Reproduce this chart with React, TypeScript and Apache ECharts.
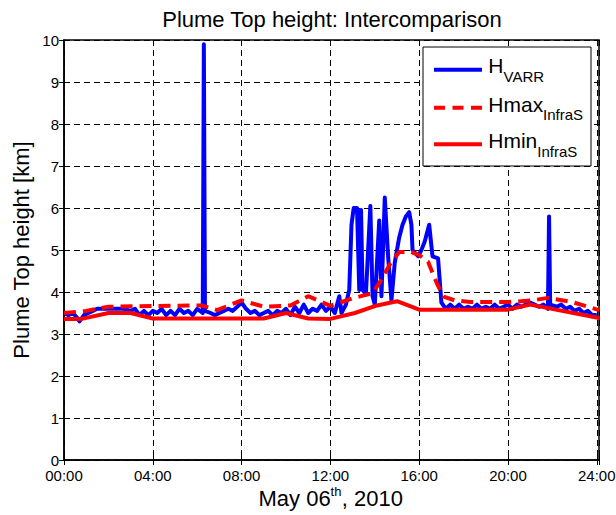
import React, { useEffect, useRef } from "react";
import * as echarts from "echarts";

// ---- data (hours of day, km) ----
const varrTime = [
  0, 0.2, 0.4, 0.6, 0.7, 0.9, 1.1, 1.3, 1.5, 1.8, 2.1, 2.4, 2.7, 3.0, 3.2, 3.4, 3.6, 3.8, 4.0, 4.2,
  4.4, 4.6, 4.8, 5.0, 5.2, 5.4, 5.6, 5.8, 6.0, 6.25, 6.3, 6.35, 6.6, 6.8, 7.0, 7.2, 7.4, 7.6, 7.8, 8.0,
  8.2, 8.4, 8.6, 8.8, 9.0, 9.2, 9.4, 9.6, 9.8, 10.0, 10.2, 10.4, 10.6, 10.8, 11.0, 11.2, 11.4, 11.6, 11.8, 12.0,
  12.2, 12.4, 12.5, 12.7, 12.85, 12.95, 13.05, 13.2, 13.3, 13.38, 13.45, 13.6, 13.8, 13.9, 14.0, 14.2, 14.3, 14.45, 14.6, 14.75,
  14.9, 15.1, 15.25, 15.4, 15.55, 15.65, 15.7, 15.95, 16.1, 16.25, 16.45, 16.6, 16.85, 17.0, 17.2, 17.4, 17.6, 17.8, 18.0, 18.2,
  18.4, 18.6, 18.8, 19.0, 19.2, 19.4, 19.6, 19.8, 20.0, 20.2, 20.4, 20.6, 20.8, 21.0, 21.2, 21.4, 21.6, 21.8, 21.85, 21.9,
  22.2, 22.4, 22.6, 22.8, 23.0, 23.2, 23.4, 23.6, 23.8, 24.0,
];
const varrHeight = [
  3.5, 3.45, 3.5, 3.38, 3.3, 3.45, 3.5, 3.55, 3.6, 3.6, 3.6, 3.6, 3.6, 3.55, 3.6, 3.45, 3.55, 3.45, 3.55, 3.5,
  3.6, 3.45, 3.55, 3.45, 3.6, 3.5, 3.55, 3.45, 3.6, 3.5, 9.9, 3.55, 3.5, 3.45, 3.5, 3.55, 3.6, 3.55, 3.65, 3.75,
  3.6, 3.5, 3.55, 3.45, 3.5, 3.55, 3.45, 3.55, 3.5, 3.6, 3.45, 3.65, 3.5, 3.7, 3.5, 3.6, 3.55, 3.7, 3.55, 3.65,
  3.5, 3.9, 3.5, 3.7, 4.05, 5.6, 6.0, 6.0, 4.05, 5.95, 4.05, 3.95, 6.05, 3.9, 3.7, 5.7, 3.9, 6.25, 4.85, 3.8,
  4.7, 5.3, 5.6, 5.8, 5.9, 5.6, 5.0, 4.85, 5.0, 5.2, 5.6, 4.85, 4.8, 3.75, 3.6, 3.7, 3.6, 3.7, 3.6, 3.65,
  3.6, 3.7, 3.6, 3.65, 3.6, 3.7, 3.6, 3.65, 3.7, 3.6, 3.7, 3.65, 3.7, 3.75, 3.7, 3.65, 3.7, 3.6, 5.8, 3.7,
  3.65, 3.7, 3.6, 3.65, 3.55, 3.6, 3.5, 3.55, 3.45, 3.45,
];
const hmaxTime = [0, 1.0, 2.0, 6.2, 6.9, 8.0, 9.0, 10.2, 11.0, 12.0, 13.0, 13.9, 14.3, 14.7, 15.1, 15.6, 16.0, 16.4, 16.8, 17.1, 17.6, 18.3, 20.0, 21.1, 21.8, 22.9, 24.1];
const hmaxHeight = [3.5, 3.55, 3.65, 3.68, 3.57, 3.8, 3.65, 3.68, 3.9, 3.67, 3.85, 3.97, 4.3, 4.68, 4.95, 4.96, 4.88, 4.72, 4.2, 3.89, 3.8, 3.76, 3.76, 3.8, 3.86, 3.76, 3.57];
const hminTime = [0, 0.8, 2.0, 3.0, 4.0, 9.0, 10.0, 11.0, 12.0, 13.1, 14.1, 15.0, 16.0, 20.0, 21.0, 24.1];
const hminHeight = [3.36, 3.36, 3.5, 3.5, 3.37, 3.37, 3.5, 3.37, 3.36, 3.5, 3.68, 3.78, 3.58, 3.58, 3.7, 3.38];

const seriesNames = ["H_VARR", "Hmax_InfraS", "Hmin_InfraS"];
const xMin = 0;
const xMax = 24.1;
const xInterval = 4;
const yMin = 0;
const yMax = 10;
const yInterval = 1;

const titleText = "Plume Top height: Intercomparison";
const yLabelText = "Plume Top height [km]";

const FONT = "'Liberation Sans', Arial, Helvetica, sans-serif";

const zip = (t: number[], v: number[]) => t.map((x, i) => [x, v[i]]);
const pad2 = (n: number) => (n < 10 ? "0" + n : "" + n);

export default function App() {
  const ref = useRef<HTMLDivElement>(null);
  useEffect(() => {
    if (!ref.current) return;
    const chart = echarts.init(ref.current, null, { renderer: "svg" });
    const gridLeft = 64;
    const gridTop = 40;
    const gridW = 535;
    const gridH = 420;

    const tickStyle = { show: true, inside: true, length: 5, lineStyle: { color: "#000", width: 1 } };
    const labelStyle = { color: "#000", fontSize: 15, fontFamily: FONT };

    const txt = (text: string, x: number, y: number, size: number, extra: any = {}) => ({
      type: "text",
      x,
      y,
      z: 110,
      ...extra,
      style: {
        text,
        fill: "#000",
        fontSize: size,
        fontFamily: FONT,
        align: "left",
        verticalAlign: "middle",
        ...(extra.style || {}),
      },
    });

    const legX1 = 434;
    const legX2 = 482;
    const legRowsY = [69.7, 107.7, 144.3];

    chart.setOption({
      animation: false,
      backgroundColor: "#fff",
      grid: {
        left: gridLeft,
        top: gridTop,
        width: gridW,
        height: gridH,
        show: true,
        borderColor: "#000",
        borderWidth: 1.5,
        backgroundColor: "#fff",
        containLabel: false,
        outerBoundsMode: "none",
      },
      xAxis: [
        {
          type: "value",
          min: xMin,
          max: xMax,
          interval: xInterval,
          axisLine: { show: true, lineStyle: { color: "#000", width: 1.5 } },
          axisTick: tickStyle,
          axisLabel: {
            ...labelStyle,
            margin: 8,
            showMaxLabel: true,
            formatter: (v: number) => (Math.abs(v - Math.round(v)) < 1e-6 && Math.round(v) % 4 === 0 ? pad2(Math.round(v)) + ":00" : ""),
          },
          splitLine: { show: true, lineStyle: { color: "#000", width: 1, type: [6, 4] } },
        },
        {
          type: "value",
          position: "top",
          min: xMin,
          max: xMax,
          interval: xInterval,
          axisLine: { show: false },
          axisTick: tickStyle,
          axisLabel: { show: false },
          splitLine: { show: false },
        },
      ],
      yAxis: [
        {
          type: "value",
          min: yMin,
          max: yMax,
          interval: yInterval,
          axisLine: { show: true, lineStyle: { color: "#000", width: 1.5 } },
          axisTick: tickStyle,
          axisLabel: { ...labelStyle, margin: 5 },
          splitLine: { show: true, lineStyle: { color: "#000", width: 1, type: [6, 4] } },
        },
        {
          type: "value",
          position: "right",
          min: yMin,
          max: yMax,
          interval: yInterval,
          axisLine: { show: false },
          axisTick: tickStyle,
          axisLabel: { show: false },
          splitLine: { show: false },
        },
      ],
      series: [
        {
          name: seriesNames[0],
          type: "line",
          xAxisIndex: 0,
          yAxisIndex: 0,
          data: zip(varrTime, varrHeight),
          symbol: "none",
          showSymbol: false,
          lineStyle: { color: "#0000ff", width: 4, join: "round" },
          z: 2,
        },
        {
          name: seriesNames[1],
          type: "line",
          xAxisIndex: 0,
          yAxisIndex: 0,
          data: zip(hmaxTime, hmaxHeight),
          symbol: "none",
          showSymbol: false,
          lineStyle: { color: "#ff0000", width: 4, type: [12, 7] },
          z: 3,
        },
        {
          name: seriesNames[2],
          type: "line",
          xAxisIndex: 0,
          yAxisIndex: 0,
          data: zip(hminTime, hminHeight),
          symbol: "none",
          showSymbol: false,
          lineStyle: { color: "#ff0000", width: 4 },
          z: 4,
        },
      ],
      graphic: [
        txt(titleText, 332, 19, 22, { style: { align: "center" } }),
        txt(yLabelText, 21, 250, 22, { rotation: Math.PI / 2, style: { align: "center" } }),
        txt("May 06", 258.5, 498, 22),
        txt("th", 330.6, 491, 13),
        txt(", 2010", 341.8, 498, 22),
        {
          type: "rect",
          z: 100,
          shape: { x: 423, y: 47, width: 168, height: 119 },
          style: { fill: "#fff", stroke: "#000", lineWidth: 1 },
        },
        {
          type: "line",
          z: 105,
          shape: { x1: legX1, y1: legRowsY[0], x2: legX2, y2: legRowsY[0] },
          style: { stroke: "#0000ff", lineWidth: 4 },
        },
        {
          type: "line",
          z: 105,
          shape: { x1: legX1, y1: legRowsY[1], x2: legX2, y2: legRowsY[1] },
          style: { stroke: "#ff0000", lineWidth: 4, lineDash: [11, 7.5] },
        },
        {
          type: "line",
          z: 105,
          shape: { x1: legX1, y1: legRowsY[2], x2: legX2, y2: legRowsY[2] },
          style: { stroke: "#ff0000", lineWidth: 4 },
        },
        txt("H", 488.3, 65.8, 21),
        txt("VARR", 503.5, 76, 15),
        txt("Hmax", 488.3, 104, 21),
        txt("InfraS", 543.1, 114.7, 15),
        txt("Hmin", 488.3, 140.8, 21),
        txt("InfraS", 537.3, 151.2, 15),
      ],
    });
    return () => chart.dispose();
  }, []);
  return (
    <div
      ref={ref}
      style={{ position: "fixed", left: 0, top: 0, width: 616, height: 515, background: "#fff" }}
    />
  );
}
